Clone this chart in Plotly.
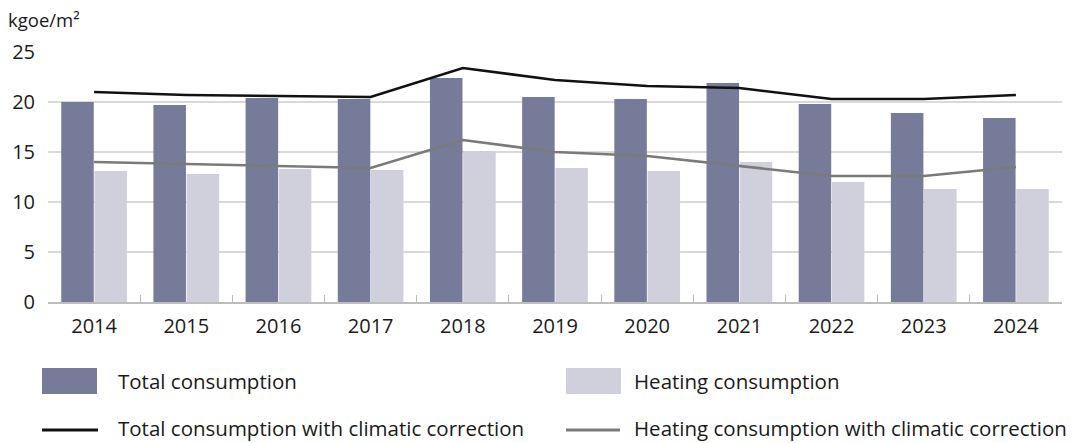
import plotly.graph_objects as go

years = ["2014", "2015", "2016", "2017", "2018", "2019", "2020", "2021", "2022", "2023", "2024"]
total = [20.0, 19.7, 20.4, 20.3, 22.4, 20.5, 20.3, 21.9, 19.8, 18.9, 18.4]
heating = [13.1, 12.8, 13.3, 13.2, 15.1, 13.4, 13.1, 14.0, 12.0, 11.3, 11.3]
total_corr = [21.0, 20.7, 20.6, 20.5, 23.4, 22.2, 21.6, 21.4, 20.3, 20.3, 20.7]
heating_corr = [14.0, 13.8, 13.6, 13.4, 16.2, 15.0, 14.6, 13.6, 12.6, 12.6, 13.5]
y_ticks = [0, 5, 10, 15, 20, 25]

C_TOTAL = "#777B9A"
C_HEAT = "#D0D0DD"
C_LINE1 = "#111111"
C_LINE2 = "#7A7A7A"
FONT = "Open Sans, Noto Sans, sans-serif"
TXT = "#1a1a1a"

W, H = 1078, 443
L, R, T, B = 48, 16, 52, 141
PW = W - L - R
PH = H - T - B


def px(x):
    return (x - L) / PW


def py(y):
    return (H - B - y) / PH


fig = go.Figure()
fig.add_bar(x=years, y=total, name="Total consumption", marker_color=C_TOTAL,
            marker_line_width=0)
fig.add_bar(x=years, y=heating, name="Heating consumption", marker_color=C_HEAT,
            marker_line_width=0)
fig.add_scatter(x=years, y=total_corr, mode="lines",
                name="Total consumption with climatic correction",
                line=dict(color=C_LINE1, width=2.6))
fig.add_scatter(x=years, y=heating_corr, mode="lines",
                name="Heating consumption with climatic correction",
                line=dict(color=C_LINE2, width=2.6))

shapes = []
annotations = []

# custom legend
legend_items = [
    ("box", C_TOTAL, 42, 97, 381, 116, "Total consumption"),
    ("box", C_HEAT, 566, 621, 381, 632, "Heating consumption"),
    ("line", C_LINE1, 42, 98, 428, 116, "Total consumption with climatic correction"),
    ("line", C_LINE2, 566, 620, 428, 632, "Heating consumption with climatic correction"),
]
for kind, col, x0, x1, yc, tx, label in legend_items:
    if kind == "box":
        shapes.append(dict(type="rect", xref="paper", yref="paper",
                           x0=px(x0), x1=px(x1), y0=py(yc + 13), y1=py(yc - 13),
                           fillcolor=col, line=dict(width=0)))
    else:
        shapes.append(dict(type="line", xref="paper", yref="paper",
                           x0=px(x0), x1=px(x1), y0=py(yc + 2), y1=py(yc + 2),
                           line=dict(color=col, width=3)))
    annotations.append(dict(text=label, xref="paper", yref="paper", x=px(tx), y=py(yc),
                            xanchor="left", yanchor="middle", showarrow=False,
                            font=dict(family=FONT, size=20.5, color=TXT)))

annotations.append(dict(text="kgoe/m²", xref="paper", yref="paper", x=px(6), y=py(19),
                        xanchor="left", yanchor="middle", showarrow=False,
                        font=dict(family=FONT, size=18.5, color=TXT)))

fig.update_layout(
    width=W, height=H,
    margin=dict(l=L, r=R, t=T, b=B, autoexpand=False),
    paper_bgcolor="white", plot_bgcolor="white",
    barmode="group", bargap=0.28, bargroupgap=0.02,
    showlegend=False,
    font=dict(family=FONT, size=20, color=TXT),
    shapes=shapes, annotations=annotations,
    xaxis=dict(showgrid=False, showline=True, linecolor="#BDBDBD", linewidth=1.5,
               ticks="inside", tickson="boundaries", ticklen=7, tickcolor="#BDBDBD",
               tickfont=dict(family=FONT, size=20, color=TXT), ticklabelstandoff=5),
    yaxis=dict(range=[0, 25], tickvals=y_ticks, showgrid=True, gridcolor="#D9D9D9",
               gridwidth=1.5, zeroline=False, showline=False,
               tickfont=dict(family=FONT, size=20, color=TXT), ticklabelstandoff=12),
)

fig.write_html("out.html", config={"displayModeBar": False},
               post_script="document.body.style.margin='0';")
